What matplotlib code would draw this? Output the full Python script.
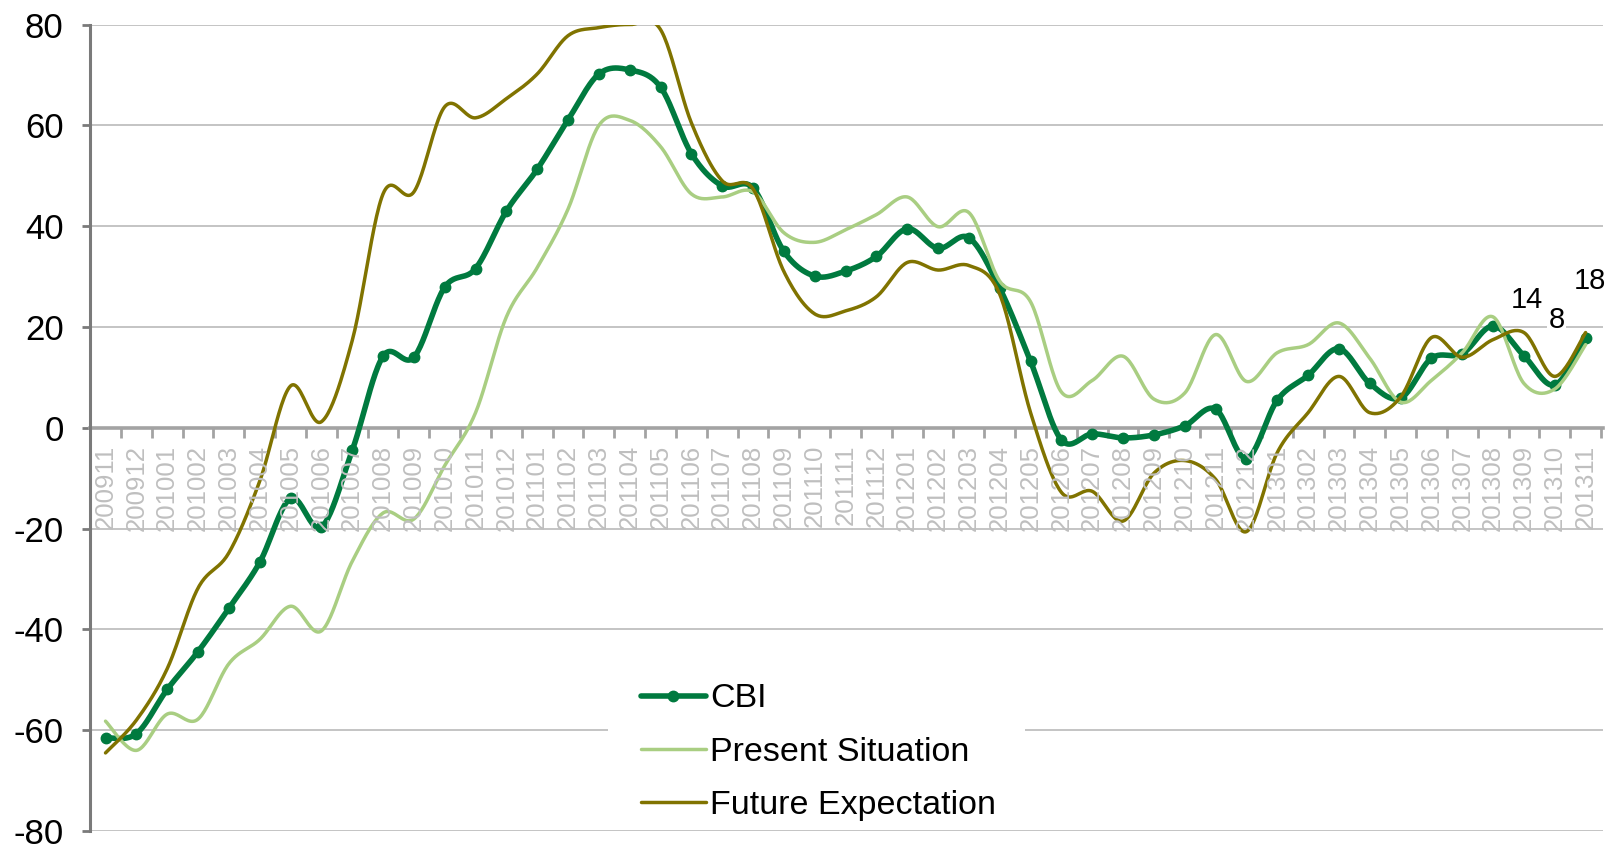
import numpy as np
import matplotlib
matplotlib.use("Agg")
import matplotlib.pyplot as plt
from matplotlib.lines import Line2D
from matplotlib.patches import Rectangle

months = ["200911", "200912", "201001", "201002", "201003", "201004", "201005", "201006",
          "201007", "201008", "201009", "201010", "201011", "201012", "201101", "201102",
          "201103", "201104", "201105", "201106", "201107", "201108", "201109", "201110",
          "201111", "201112", "201201", "201202", "201203", "201204", "201205", "201206",
          "201207", "201208", "201209", "201210", "201211", "201212", "201301", "201302",
          "201303", "201304", "201305", "201306", "201307", "201308", "201309", "201310",
          "201311"]

cbi = [-61.5, -60.7, -51.9, -44.4, -35.8, -26.7, -14.0, -19.7, -4.5, 14.2, 14.0, 27.9,
       31.6, 43.0, 51.3, 61.1, 70.2, 71.0, 67.6, 54.4, 48.0, 47.6, 35.0, 30.1, 31.1, 34.0,
       39.5, 35.6, 37.7, 27.7, 13.2, -2.4, -1.2, -2.0, -1.4, 0.4, 3.7, -6.1, 5.5, 10.4,
       15.7, 8.8, 5.9, 13.8, 14.7, 20.2, 14.3, 8.5, 17.9]

present = [-58.2, -64.0, -56.8, -57.8, -46.8, -42.0, -35.4, -40.3, -26.5, -16.9, -18.1,
           -7.5, 3.0, 22.0, 31.8, 43.4, 60.0, 61.0, 55.8, 46.4, 45.8, 46.8, 38.7, 36.8,
           39.3, 42.3, 45.8, 39.9, 42.7, 29.1, 25.0, 7.1, 9.4, 14.2, 5.7, 6.9, 18.5, 9.2,
           14.9, 16.5, 20.8, 13.8, 5.1, 9.4, 14.9, 22.0, 8.8, 7.7, 16.5]

future = [-64.5, -58.0, -47.8, -31.8, -24.8, -10.6, 8.3, 1.2, 17.3, 46.4, 46.8, 63.7,
          61.5, 65.3, 70.2, 77.8, 79.4, 80.0, 79.0, 60.5, 49.0, 47.4, 31.0, 22.6, 23.2,
          26.0, 32.8, 31.3, 32.2, 26.5, 3.0, -12.8, -12.6, -18.5, -9.0, -6.5, -10.2, -20.6,
          -4.9, 3.0, 10.2, 3.0, 6.1, 17.9, 14.0, 17.5, 18.9, 10.2, 18.9]

label_texts = ["14", "8", "18"]
label_x = [46.09, 47.06, 48.13]
label_y = [25.4, 21.4, 29.1]

series_names = ["CBI", "Present Situation", "Future Expectation"]
colors = ["#007A3F", "#A9CE82", "#807300"]


def smooth(y, n=24):
    x = np.arange(len(y), dtype=float)
    pts = np.column_stack([x, np.asarray(y, float)])
    P = np.vstack([pts[0], pts, pts[-1]])
    out = []
    t = np.linspace(0, 1, n, endpoint=False)[:, None]
    for i in range(len(pts) - 1):
        p0, p1, p2, p3 = P[i], P[i + 1], P[i + 2], P[i + 3]
        c1 = p1 + (p2 - p0) / 6.0
        c2 = p2 - (p3 - p1) / 6.0
        seg = (1 - t) ** 3 * p1 + 3 * (1 - t) ** 2 * t * c1 + 3 * (1 - t) * t ** 2 * c2 + t ** 3 * p2
        out.append(seg)
    out.append(pts[-1:])
    s = np.vstack(out)
    return s[:, 0], s[:, 1]


plt.rcParams['font.family'] = ['Liberation Sans', 'DejaVu Sans']

fig = plt.figure(figsize=(16.09, 8.48), dpi=100)
ax = fig.add_axes([0.056, 0.02, 0.940, 0.951])

x = np.arange(len(months))

sx, sy = smooth(cbi)
ax.plot(sx, sy, color=colors[0], lw=4.0, zorder=3, solid_capstyle='round')
ax.plot(x, cbi, linestyle='none', marker='o', ms=7.5, color=colors[0], zorder=3)
sx, sy = smooth(present)
ax.plot(sx, sy, color=colors[1], lw=2.5, zorder=3.1, solid_capstyle='round')
sx, sy = smooth(future)
ax.plot(sx, sy, color=colors[2], lw=2.5, zorder=3.2, solid_capstyle='round')

# white legend area (hides the gridline behind the legend)
ax.add_patch(Rectangle((0.3425, 0.05), 0.2755, 0.1, transform=ax.transAxes,
                       facecolor='white', edgecolor='none', zorder=1))

handles = [Line2D([], [], color=colors[0], lw=4.0, marker='o', ms=7.5, solid_capstyle='round'),
           Line2D([], [], color=colors[1], lw=2.5, solid_capstyle='round'),
           Line2D([], [], color=colors[2], lw=2.5, solid_capstyle='round')]
leg = ax.legend(handles, series_names, loc='upper left', bbox_to_anchor=(0.3643, 0.183),
                fontsize=24.5, frameon=False,
                handlelength=1.9, handletextpad=0.12, labelspacing=0.66, borderpad=0,
                borderaxespad=0)
leg.set_zorder(6)

ax.set_xlim(-0.5, 48.55)
ax.set_ylim(-80, 80)
ax.set_yticks(np.arange(-80, 81, 20))
ax.set_yticklabels([str(v) for v in range(-80, 81, 20)], fontsize=25)
ax.yaxis.grid(True, color='#C4C4C4', lw=1.4)
ax.set_axisbelow(True)

ax.set_xticks(np.arange(-0.5, 49, 1.0))
ax.set_xticklabels([])
ax.spines['bottom'].set_position(('data', 0))
ax.spines['bottom'].set_color('#A3A3A3')
ax.spines['bottom'].set_linewidth(2.6)
ax.spines['bottom'].set_zorder(2)
ax.spines['left'].set_color('#7A7A7A')
ax.spines['left'].set_linewidth(2.2)
ax.spines['top'].set_visible(False)
ax.spines['right'].set_visible(False)
ax.tick_params(axis='x', direction='out', length=7, width=2, color='#A3A3A3')
ax.tick_params(axis='y', direction='out', length=6, width=2, color='#7A7A7A', pad=13)

for i, m in enumerate(months):
    ax.text(i, -3.4, m, rotation=90, ha='center', va='top', fontsize=18.5,
            color='#BFBFBF', zorder=5)

for t, xi, yv in zip(label_texts, label_x, label_y):
    ax.text(xi, yv, t, ha='center', va='center', fontsize=21, color='black', zorder=6,
            bbox=dict(facecolor='white', edgecolor='none', pad=1))

fig.savefig("out.png", dpi=100)
